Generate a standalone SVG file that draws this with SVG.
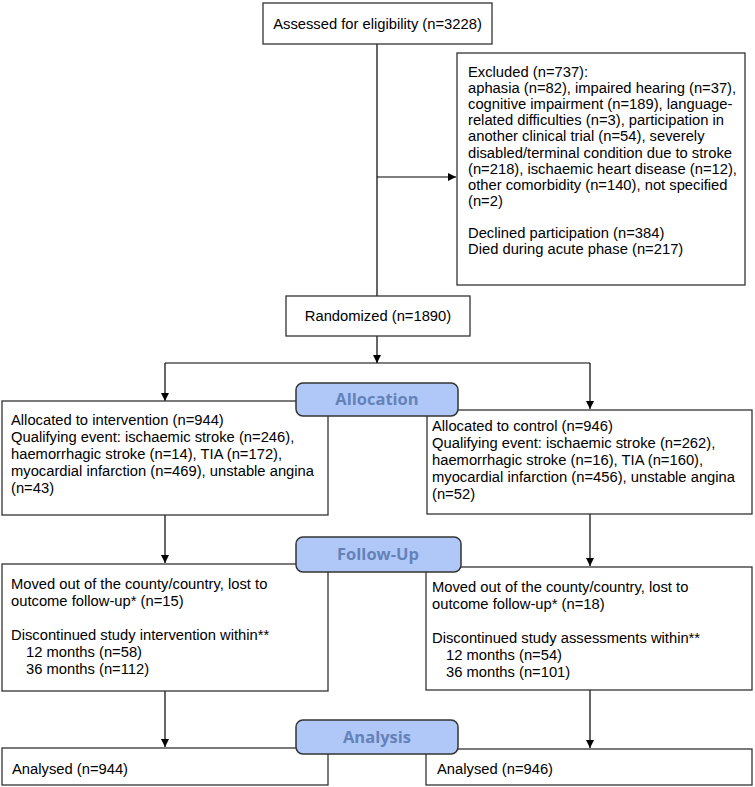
<svg xmlns="http://www.w3.org/2000/svg" width="755" height="787" viewBox="0 0 755 787">
<defs>
<marker id="ah" viewBox="0 0 10 10" refX="10" refY="5" markerWidth="8" markerHeight="8" markerUnits="userSpaceOnUse" orient="auto">
<path d="M0,0 L10,5 L0,10 z" fill="#000"/>
</marker>
<style>
.box{fill:#fff;stroke:#333;stroke-width:1.3}
.t{font-family:"Liberation Sans",Arial,sans-serif;font-size:14.75px;fill:#000}
.lab{fill:#b0c8f8;stroke:#333;stroke-width:1.5}
.lt{font-family:"Open Sans","Noto Sans",sans-serif;font-weight:bold;font-size:16.5px;fill:#6582b8;text-anchor:middle}
.c{fill:none;stroke:#000;stroke-width:1.2}
</style>
</defs>
<rect width="755" height="787" fill="#fff"/>
<g id="connectors">
<line class="c" x1="377" y1="44" x2="377" y2="296"/>
<line class="c" x1="377" y1="177" x2="456" y2="177" marker-end="url(#ah)"/>
<line class="c" x1="377" y1="336" x2="377" y2="363" marker-end="url(#ah)"/>
<line class="c" x1="165" y1="363" x2="590" y2="363"/>
<line class="c" x1="165" y1="363" x2="165" y2="401" marker-end="url(#ah)"/>
<line class="c" x1="590" y1="363" x2="590" y2="409" marker-end="url(#ah)"/>
<line class="c" x1="165" y1="515" x2="165" y2="563" marker-end="url(#ah)"/>
<line class="c" x1="590" y1="514" x2="590" y2="566" marker-end="url(#ah)"/>
<line class="c" x1="165" y1="691" x2="165" y2="747" marker-end="url(#ah)"/>
<line class="c" x1="590" y1="690" x2="590" y2="748" marker-end="url(#ah)"/>
</g>
<g id="assessed">
<rect class="box" x="263" y="3" width="229" height="41"/>
<text class="t" x="377.5" y="29" text-anchor="middle">Assessed for eligibility (n=3228)</text>
</g>
<g id="excluded">
<rect class="box" x="457" y="53" width="288" height="232"/>
<text class="t" x="468" y="77">Excluded  (n=737):</text>
<text class="t" x="468" y="93.1">aphasia (n=82), impaired hearing (n=37),</text>
<text class="t" x="468" y="109.2">cognitive impairment (n=189), language-</text>
<text class="t" x="468" y="125.3">related difficulties (n=3), participation in</text>
<text class="t" x="468" y="141.4">another clinical trial (n=54), severely</text>
<text class="t" x="468" y="157.5">disabled/terminal condition due to stroke</text>
<text class="t" x="468" y="173.6">(n=218), ischaemic heart disease (n=12),</text>
<text class="t" x="468" y="189.7">other comorbidity (n=140), not specified</text>
<text class="t" x="468" y="205.8">(n=2)</text>
<text class="t" x="468" y="238">Declined participation (n=384)</text>
<text class="t" x="468" y="254.1">Died during acute phase (n=217)</text>
</g>
<g id="randomized">
<rect class="box" x="286" y="296" width="184" height="40"/>
<text class="t" x="378" y="321" text-anchor="middle">Randomized (n=1890)</text>
</g>
<g id="alloc-intervention">
<rect class="box" x="2" y="401" width="326" height="114"/>
<text class="t" x="11" y="425">Allocated to intervention (n=944)</text>
<text class="t" x="11" y="442">Qualifying event: ischaemic stroke (n=246),</text>
<text class="t" x="11" y="459">haemorrhagic stroke (n=14), TIA (n=172),</text>
<text class="t" x="11" y="476">myocardial infarction (n=469), unstable angina</text>
<text class="t" x="11" y="493">(n=43)</text>
</g>
<g id="alloc-control">
<rect class="box" x="427" y="410" width="325" height="104"/>
<text class="t" x="432" y="431">Allocated to control (n=946)</text>
<text class="t" x="432" y="448">Qualifying event: ischaemic stroke (n=262),</text>
<text class="t" x="432" y="465">haemorrhagic stroke (n=16), TIA (n=160),</text>
<text class="t" x="432" y="482">myocardial infarction (n=456), unstable angina</text>
<text class="t" x="432" y="499">(n=52)</text>
</g>
<g id="allocation-label">
<rect class="lab" x="296" y="383" width="162" height="33" rx="7"/>
<text class="lt" x="377" y="405">Allocation</text>
</g>
<g id="fu-intervention">
<rect class="box" x="2" y="564" width="326" height="127"/>
<text class="t" x="11" y="589">Moved out of the county/country, lost to</text>
<text class="t" x="11" y="606">outcome follow-up* (n=15)</text>
<text class="t" x="11" y="640">Discontinued study intervention within**</text>
<text class="t" x="26" y="657">12 months (n=58)</text>
<text class="t" x="26" y="674">36 months (n=112)</text>
</g>
<g id="fu-control">
<rect class="box" x="426" y="567" width="326" height="123"/>
<text class="t" x="432" y="592">Moved out of the county/country, lost to</text>
<text class="t" x="432" y="609">outcome follow-up* (n=18)</text>
<text class="t" x="432" y="643">Discontinued study assessments within**</text>
<text class="t" x="446" y="660">12 months (n=54)</text>
<text class="t" x="446" y="677">36 months (n=101)</text>
</g>
<g id="followup-label">
<rect class="lab" x="296" y="537" width="165" height="35" rx="7"/>
<text class="lt" x="378" y="560">Follow-Up</text>
</g>
<g id="analysed-intervention">
<rect class="box" x="2" y="748" width="326" height="37"/>
<text class="t" x="12" y="774">Analysed  (n=944)</text>
</g>
<g id="analysed-control">
<rect class="box" x="426" y="749" width="326" height="36"/>
<text class="t" x="437" y="774">Analysed  (n=946)</text>
</g>
<g id="analysis-label">
<rect class="lab" x="296" y="720" width="162" height="34" rx="7"/>
<text class="lt" x="377" y="743">Analysis</text>
</g>
</svg>
